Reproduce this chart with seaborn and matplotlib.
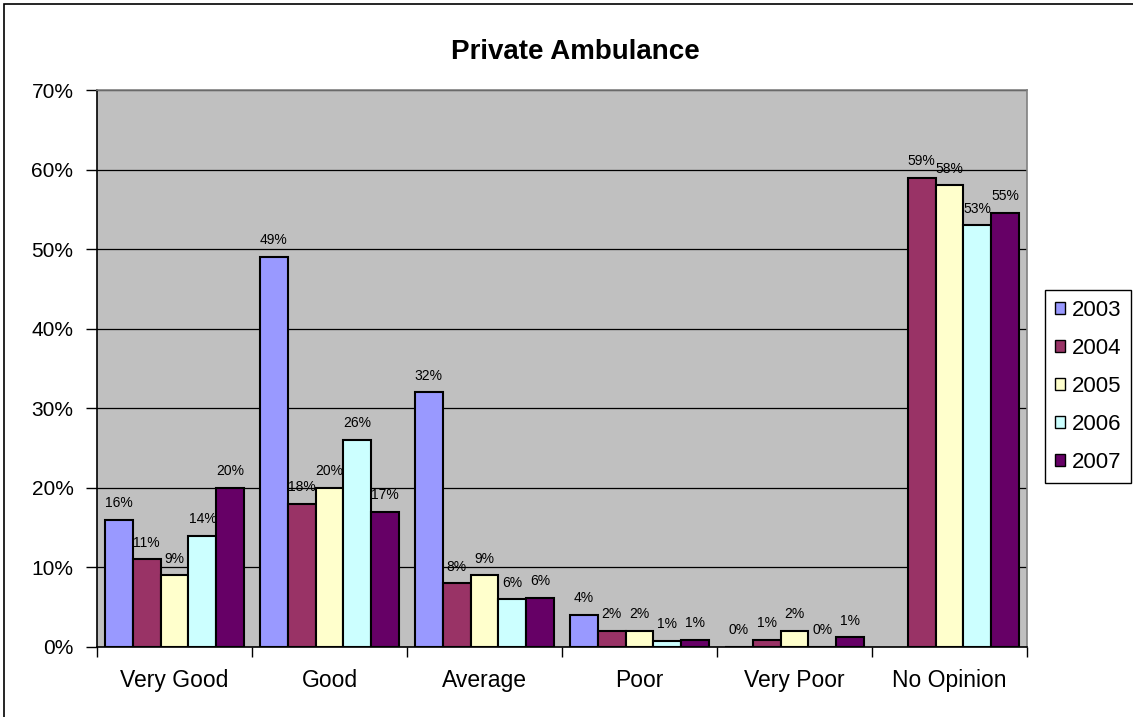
from matplotlib import pyplot as plt
from matplotlib.patches import Rectangle
import pandas as pd
import seaborn as sns
import numpy as np

# chart values (percent)
categories = ['Very Good', 'Good', 'Average', 'Poor', 'Very Poor', 'No Opinion']
years = ['2003', '2004', '2005', '2006', '2007']
v2003 = [16, 49, 32, 4, 0, np.nan]
v2004 = [11, 18, 8, 2, 0.9, 59]
v2005 = [9, 20, 9, 2, 2, 58]
v2006 = [14, 26, 6, 0.8, 0, 53]
v2007 = [20, 17, 6.2, 0.9, 1.2, 54.6]
colors = ['#9999FF', '#993366', '#FFFFCC', '#CCFFFF', '#660066']

# long form table for seaborn
rows = []
for year, vals in zip(years, [v2003, v2004, v2005, v2006, v2007]):
    for cat, v in zip(categories, vals):
        rows.append({'category': cat, 'year': year, 'value': v})
df = pd.DataFrame(rows)

sns.set_style("white")
plt.rcParams['font.family'] = ['Liberation Sans', 'DejaVu Sans']
plt.rcParams['text.color'] = 'black'
plt.rcParams['xtick.color'] = 'black'
plt.rcParams['ytick.color'] = 'black'

fig = plt.figure(figsize=(11.33, 7.17), dpi=100)
ax = fig.add_axes([97 / 1133, 1 - 647 / 717, 930 / 1133, 557 / 717])

# chart border (cropped at right/bottom like the original)
fig.patches.append(Rectangle((0.0035, -0.05), 1.2, 1.044, transform=fig.transFigure,
                             fill=False, edgecolor='black', linewidth=1.2))

sns.barplot(ax=ax, data=df, x='category', y='value', hue='year',
            order=categories, hue_order=years, palette=colors,
            saturation=1, width=0.9, edgecolor='black', linewidth=1.5,
            errorbar=None)

# data labels
for cont in ax.containers:
    ax.bar_label(cont, fmt='%.0f%%', padding=7, fontsize=10)

ax.set_facecolor('#C0C0C0')
ax.set_ylim(0, 70)
ax.set_xlim(-0.5, 5.5)
ax.set_yticks(range(0, 71, 10))
ax.set_yticklabels([f'{t}%' for t in range(0, 71, 10)], fontsize=15)
ax.yaxis.grid(True, color='black', linewidth=0.9)
ax.set_axisbelow(True)
ax.tick_params(axis='y', length=8, width=1, left=True, pad=9)
ax.tick_params(axis='x', which='major', length=0, labelsize=16.5, pad=16)
ax.set_xticks(np.arange(-0.5, 6, 1), minor=True)
ax.tick_params(axis='x', which='minor', length=7, width=1, bottom=True)
ax.set_xlabel('')
ax.set_ylabel('')

for side in ['left', 'bottom']:
    ax.spines[side].set_color('black')
    ax.spines[side].set_linewidth(1.2)
for side in ['top', 'right']:
    ax.spines[side].set_color('#808080')
    ax.spines[side].set_linewidth(1.2)

ax.set_title('Private Ambulance', fontsize=20, fontweight='bold', pad=22, x=0.514)

# legend on the right
handles, labels = ax.get_legend_handles_labels()
leg = ax.legend(handles, labels, loc='upper left',
                bbox_to_anchor=(1045 / 1133, 1 - 290 / 717),
                bbox_transform=fig.transFigure, fontsize=16, frameon=True,
                fancybox=False, edgecolor='black', framealpha=1,
                handlelength=0.45, handleheight=0.45, handletextpad=0.3,
                labelspacing=0.76, borderpad=0.45, borderaxespad=0)
leg.get_frame().set_linewidth(1)
for h in leg.legend_handles:
    h.set_edgecolor('black')
    h.set_linewidth(1)

plt.savefig('out.png', dpi=100)
